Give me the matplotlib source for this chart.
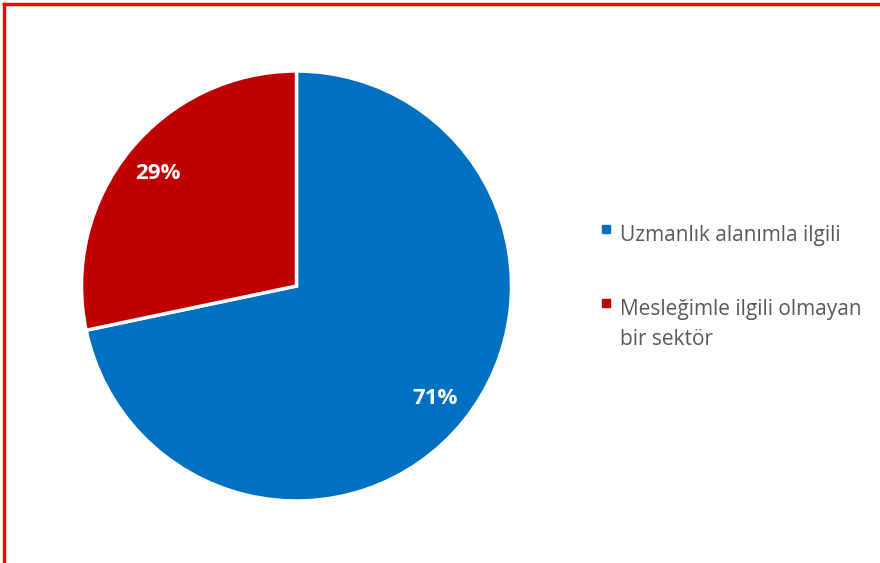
import matplotlib.pyplot as plt
from matplotlib.lines import Line2D
from matplotlib.patches import Rectangle

# Data (shares measured from the slice angles, labels as printed)
categories = ['Uzmanlık alanımla ilgili', 'Mesleğimle ilgili olmayan\nbir sektör']
shares = [71.7, 28.3]
pct_labels = ['71%', '29%']
colors = ['#0070C0', '#C00000']

plt.rcParams['font.family'] = ['Open Sans', 'DejaVu Sans']

fig = plt.figure(figsize=(8.8, 5.63), dpi=100)
ax = fig.add_axes([81.5 / 880, 62 / 563, 430 / 880, 430 / 563])

wedges, texts = ax.pie(
    shares, colors=colors, startangle=90, counterclock=False,
    wedgeprops=dict(edgecolor='white', linewidth=2.5))
ax.set_xlim(-1, 1)
ax.set_ylim(-1, 1)
ax.set_aspect('equal')

# percentage labels at 0.83 of the radius, mid-angle of each wedge
import numpy as np
for w, lab in zip(wedges, pct_labels):
    ang = np.deg2rad((w.theta1 + w.theta2) / 2)
    ax.text(0.83 * np.cos(ang), 0.83 * np.sin(ang), lab, color='white',
            fontsize=16, fontweight='bold', ha='center', va='center')

# Legend drawn by hand (marker aligned with first line)
baselines = [241, 315]
line_gap = 30
for cat, col, yb in zip(categories, colors, baselines):
    fig.patches.append(Rectangle((602 / 880, 1 - (yb - 8) / 563), 8 / 880, 8 / 563,
                                 transform=fig.transFigure, color=col))
    for i, line in enumerate(cat.split('\n')):
        fig.text(620 / 880, 1 - (yb + i * line_gap) / 563, line, color='#595959',
                 fontsize=15, va='baseline', ha='left')

# Red frame (top and left only)
fig.add_artist(Line2D([4 / 880, 1], [1 - 4 / 563, 1 - 4 / 563], color='red', lw=2.5))
fig.add_artist(Line2D([4 / 880, 4 / 880], [0, 1 - 4 / 563], color='red', lw=2.5))

plt.savefig('out.png', dpi=100)
